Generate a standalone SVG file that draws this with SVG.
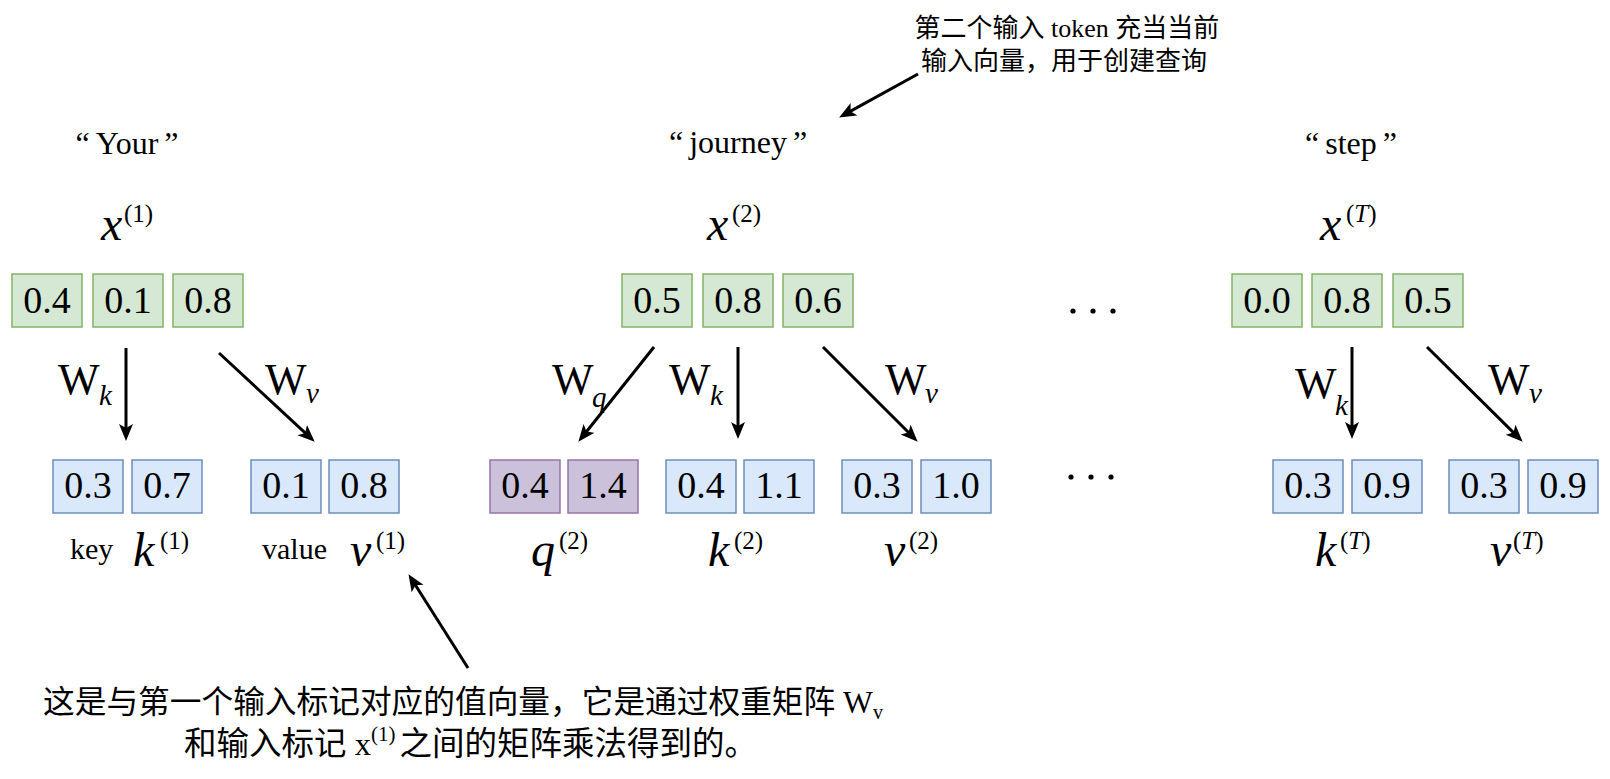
<svg xmlns="http://www.w3.org/2000/svg" width="1610" height="779" viewBox="0 0 1610 779">
<style>
text{font-family:"Liberation Serif","Noto Sans CJK SC",serif;fill:#000}
.g{fill:#d5e8d4;stroke:#82b366;stroke-width:1.5}
.b{fill:#dae8fc;stroke:#6c8ebf;stroke-width:1.5}
.p{fill:#ccc1da;stroke:#9673a6;stroke-width:1.5}
.num{font-family:"Liberation Serif",serif;font-size:38px;text-anchor:middle}
.title{font-size:32px;text-anchor:middle}
.var{font-size:48px;font-style:italic}
.sup{font-size:25px;font-style:normal}
.it{font-style:italic}
.W{font-size:44px}
.sub{font-size:29px;font-style:italic}
.lbl{font-size:30px}
.note{text-anchor:middle}
.arr{stroke:#000;stroke-width:3;fill:none;marker-end:url(#ah)}
</style>
<defs>
<marker id="ah" markerUnits="userSpaceOnUse" markerWidth="18" markerHeight="16" refX="8" refY="7" orient="auto" viewBox="0 0 18 16">
<path d="M0,0 L17,7 L0,14 L4,7 z" fill="#000"/>
</marker>
</defs>

<g id="token1">
<text class="title" x="127" y="154">“<tspan dx="6">Your</tspan><tspan dx="6">”</tspan></text>
<text x="101" y="240"><tspan class="var">x</tspan><tspan class="sup" x="124" y="222">(1)</tspan></text>
<g id="x1">
<rect class="g" x="12" y="274" width="70" height="53"/><text class="num" x="47" y="313">0.4</text>
<rect class="g" x="93" y="274" width="70" height="53"/><text class="num" x="128" y="313">0.1</text>
<rect class="g" x="173" y="274" width="70" height="53"/><text class="num" x="208" y="313">0.8</text>
</g>
<text x="58" y="394"><tspan class="W">W</tspan><tspan class="sub" x="99" y="405">k</tspan></text>
<text x="265" y="394"><tspan class="W">W</tspan><tspan class="sub" x="306" y="403">v</tspan></text>
<g id="k1">
<rect class="b" x="53" y="460" width="70" height="53"/><text class="num" x="88" y="498">0.3</text>
<rect class="b" x="132" y="460" width="70" height="53"/><text class="num" x="167" y="498">0.7</text>
</g>
<g id="v1">
<rect class="b" x="251" y="460" width="70" height="53"/><text class="num" x="286" y="498">0.1</text>
<rect class="b" x="329" y="460" width="70" height="53"/><text class="num" x="364" y="498">0.8</text>
</g>
<text class="lbl" x="70" y="559">key</text>
<text x="133" y="566"><tspan class="var">k</tspan><tspan class="sup" x="160" y="549">(1)</tspan></text>
<text class="lbl" x="262" y="559">value</text>
<text x="350" y="566"><tspan class="var">v</tspan><tspan class="sup" x="376" y="549">(1)</tspan></text>
</g>

<g id="token2">
<text class="title" x="738" y="153">“<tspan dx="6">journey</tspan><tspan dx="6">”</tspan></text>
<text x="707" y="240"><tspan class="var">x</tspan><tspan class="sup" x="732" y="222">(2)</tspan></text>
<g id="x2">
<rect class="g" x="622" y="274" width="70" height="53"/><text class="num" x="657" y="313">0.5</text>
<rect class="g" x="703" y="274" width="70" height="53"/><text class="num" x="738" y="313">0.8</text>
<rect class="g" x="783" y="274" width="70" height="53"/><text class="num" x="818" y="313">0.6</text>
</g>
<text x="552" y="394"><tspan class="W">W</tspan><tspan class="sub" x="592" y="407">q</tspan></text>
<text x="669" y="394"><tspan class="W">W</tspan><tspan class="sub" x="710" y="405">k</tspan></text>
<text x="885" y="394"><tspan class="W">W</tspan><tspan class="sub" x="925" y="403">v</tspan></text>
<g id="q2">
<rect class="p" x="490" y="460" width="70" height="53"/><text class="num" x="525" y="498">0.4</text>
<rect class="p" x="568" y="460" width="70" height="53"/><text class="num" x="603" y="498">1.4</text>
</g>
<g id="k2">
<rect class="b" x="666" y="460" width="70" height="53"/><text class="num" x="701" y="498">0.4</text>
<rect class="b" x="744" y="460" width="70" height="53"/><text class="num" x="779" y="498">1.1</text>
</g>
<g id="v2">
<rect class="b" x="842" y="460" width="70" height="53"/><text class="num" x="877" y="498">0.3</text>
<rect class="b" x="921" y="460" width="70" height="53"/><text class="num" x="956" y="498">1.0</text>
</g>
<text x="531" y="566"><tspan class="var">q</tspan><tspan class="sup" x="559" y="549">(2)</tspan></text>
<text x="708" y="566"><tspan class="var">k</tspan><tspan class="sup" x="734" y="549">(2)</tspan></text>
<text x="884" y="566"><tspan class="var">v</tspan><tspan class="sup" x="909" y="549">(2)</tspan></text>
</g>

<g id="dots">
<circle cx="1073" cy="311" r="2.6"/><circle cx="1093" cy="311" r="2.6"/><circle cx="1113" cy="311" r="2.6"/>
<circle cx="1071" cy="477" r="2.6"/><circle cx="1091" cy="477" r="2.6"/><circle cx="1111" cy="477" r="2.6"/>
</g>

<g id="tokenT">
<text class="title" x="1351" y="154">“<tspan dx="6">step</tspan><tspan dx="6">”</tspan></text>
<text x="1320" y="240"><tspan class="var">x</tspan><tspan class="sup" x="1346" y="222">(<tspan class="it">T</tspan>)</tspan></text>
<g id="xT">
<rect class="g" x="1232" y="274" width="70" height="53"/><text class="num" x="1267" y="313">0.0</text>
<rect class="g" x="1312" y="274" width="70" height="53"/><text class="num" x="1347" y="313">0.8</text>
<rect class="g" x="1393" y="274" width="70" height="53"/><text class="num" x="1428" y="313">0.5</text>
</g>
<text x="1295" y="398"><tspan class="W">W</tspan><tspan class="sub" x="1335" y="415">k</tspan></text>
<text x="1488" y="394"><tspan class="W">W</tspan><tspan class="sub" x="1529" y="403">v</tspan></text>
<g id="kT">
<rect class="b" x="1273" y="460" width="70" height="53"/><text class="num" x="1308" y="498">0.3</text>
<rect class="b" x="1352" y="460" width="70" height="53"/><text class="num" x="1387" y="498">0.9</text>
</g>
<g id="vT">
<rect class="b" x="1449" y="460" width="70" height="53"/><text class="num" x="1484" y="498">0.3</text>
<rect class="b" x="1528" y="460" width="70" height="53"/><text class="num" x="1563" y="498">0.9</text>
</g>
<text x="1315" y="566"><tspan class="var">k</tspan><tspan class="sup" x="1340" y="549">(<tspan class="it">T</tspan>)</tspan></text>
<text x="1490" y="566"><tspan class="var">v</tspan><tspan class="sup" x="1513" y="549">(<tspan class="it">T</tspan>)</tspan></text>
</g>

<g id="note-top">
<text class="note" font-size="26" x="1067" y="37">第二个输入 token 充当当前</text>
<text class="note" font-size="26" x="1064" y="70">输入向量，用于创建查询</text>
</g>

<g id="note-bottom">
<text font-size="31.7" x="43" y="713">这是与第一个输入标记对应的值向量，它是通过权重矩阵 W<tspan font-size="20" dy="6">v</tspan></text>
<text font-size="32.5" x="184" y="755">和输入标记 x<tspan font-size="21" dy="-14">(1)</tspan><tspan dx="4" dy="14">之间的矩阵乘法得到的。</tspan></text>
</g>

<g id="connectors">
<line class="arr" x1="126" y1="348" x2="126" y2="432"/>
<line class="arr" x1="219" y1="353" x2="308.1" y2="435.6"/>
<line class="arr" x1="654" y1="347" x2="584" y2="434.7"/>
<line class="arr" x1="738" y1="347" x2="738" y2="430"/>
<line class="arr" x1="823" y1="347" x2="911.3" y2="435.3"/>
<line class="arr" x1="1352" y1="347" x2="1352" y2="430"/>
<line class="arr" x1="1427" y1="347" x2="1516.3" y2="435.4"/>
<line class="arr" x1="918" y1="74" x2="847" y2="113.1"/>
<line class="arr" x1="468" y1="668" x2="413.3" y2="581.8"/>
</g>
</svg>
